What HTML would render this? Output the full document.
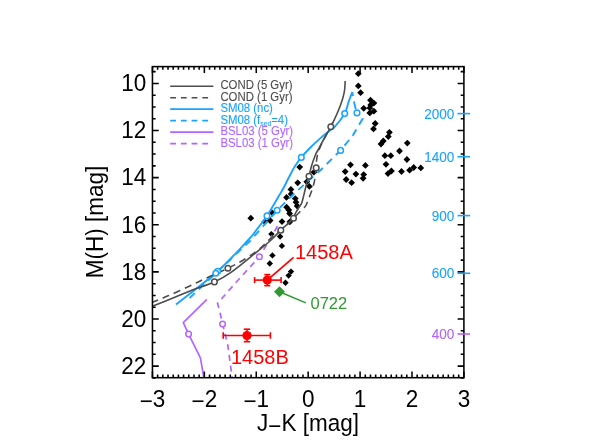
<!DOCTYPE html><html><head><meta charset="utf-8"><style>html,body{margin:0;padding:0;background:#fff}text{font-family:"Liberation Sans",sans-serif}body{width:616px;height:445px;position:relative;overflow:hidden;font-family:"Liberation Sans",sans-serif}</style></head><body><svg width="616" height="445" viewBox="0 0 616 445" style="position:absolute;left:0;top:0;will-change:transform">
<rect x="0" y="0" width="616" height="445" fill="#fff"/>
<defs><clipPath id="cp"><rect x="152.45" y="66.60" width="311.45" height="311.10"/></clipPath></defs>
<path d="M354.90,73.70 L358.30,70.30 L361.70,73.70 L358.30,77.10Z" fill="#000"/>
<path d="M354.90,85.90 L358.30,82.50 L361.70,85.90 L358.30,89.30Z" fill="#000"/>
<path d="M357.20,92.70 L360.60,89.30 L364.00,92.70 L360.60,96.10Z" fill="#000"/>
<path d="M367.10,100.20 L370.50,96.80 L373.90,100.20 L370.50,103.60Z" fill="#000"/>
<path d="M370.50,103.10 L373.90,99.70 L377.30,103.10 L373.90,106.50Z" fill="#000"/>
<path d="M360.30,108.30 L363.70,104.90 L367.10,108.30 L363.70,111.70Z" fill="#000"/>
<path d="M366.40,107.90 L369.80,104.50 L373.20,107.90 L369.80,111.30Z" fill="#000"/>
<path d="M367.30,105.00 L370.70,101.60 L374.10,105.00 L370.70,108.40Z" fill="#000"/>
<path d="M370.50,111.20 L373.90,107.80 L377.30,111.20 L373.90,114.60Z" fill="#000"/>
<path d="M366.40,112.90 L369.80,109.50 L373.20,112.90 L369.80,116.30Z" fill="#000"/>
<path d="M371.80,123.50 L375.20,120.10 L378.60,123.50 L375.20,126.90Z" fill="#000"/>
<path d="M370.10,128.90 L373.50,125.50 L376.90,128.90 L373.50,132.30Z" fill="#000"/>
<path d="M386.00,132.30 L389.40,128.90 L392.80,132.30 L389.40,135.70Z" fill="#000"/>
<path d="M384.90,136.60 L388.30,133.20 L391.70,136.60 L388.30,140.00Z" fill="#000"/>
<path d="M379.90,141.00 L383.30,137.60 L386.70,141.00 L383.30,144.40Z" fill="#000"/>
<path d="M377.60,144.00 L381.00,140.60 L384.40,144.00 L381.00,147.40Z" fill="#000"/>
<path d="M403.90,143.10 L407.30,139.70 L410.70,143.10 L407.30,146.50Z" fill="#000"/>
<path d="M396.10,151.00 L399.50,147.60 L402.90,151.00 L399.50,154.40Z" fill="#000"/>
<path d="M381.50,155.70 L384.90,152.30 L388.30,155.70 L384.90,159.10Z" fill="#000"/>
<path d="M387.40,155.70 L390.80,152.30 L394.20,155.70 L390.80,159.10Z" fill="#000"/>
<path d="M403.50,159.50 L406.90,156.10 L410.30,159.50 L406.90,162.90Z" fill="#000"/>
<path d="M382.60,164.30 L386.00,160.90 L389.40,164.30 L386.00,167.70Z" fill="#000"/>
<path d="M388.00,171.00 L391.40,167.60 L394.80,171.00 L391.40,174.40Z" fill="#000"/>
<path d="M384.60,173.60 L388.00,170.20 L391.40,173.60 L388.00,177.00Z" fill="#000"/>
<path d="M398.10,171.50 L401.50,168.10 L404.90,171.50 L401.50,174.90Z" fill="#000"/>
<path d="M406.20,170.20 L409.60,166.80 L413.00,170.20 L409.60,173.60Z" fill="#000"/>
<path d="M410.30,167.50 L413.70,164.10 L417.10,167.50 L413.70,170.90Z" fill="#000"/>
<path d="M417.40,167.90 L420.80,164.50 L424.20,167.90 L420.80,171.30Z" fill="#000"/>
<path d="M347.10,164.80 L350.50,161.40 L353.90,164.80 L350.50,168.20Z" fill="#000"/>
<path d="M362.00,165.40 L365.40,162.00 L368.80,165.40 L365.40,168.80Z" fill="#000"/>
<path d="M341.80,171.60 L345.20,168.20 L348.60,171.60 L345.20,175.00Z" fill="#000"/>
<path d="M352.50,174.10 L355.90,170.70 L359.30,174.10 L355.90,177.50Z" fill="#000"/>
<path d="M360.30,174.60 L363.70,171.20 L367.10,174.60 L363.70,178.00Z" fill="#000"/>
<path d="M359.70,178.30 L363.10,174.90 L366.50,178.30 L363.10,181.70Z" fill="#000"/>
<path d="M342.80,179.50 L346.20,176.10 L349.60,179.50 L346.20,182.90Z" fill="#000"/>
<path d="M348.20,182.70 L351.60,179.30 L355.00,182.70 L351.60,186.10Z" fill="#000"/>
<path d="M310.50,172.20 L313.90,168.80 L317.30,172.20 L313.90,175.60Z" fill="#000"/>
<path d="M296.30,167.10 L299.70,163.70 L303.10,167.10 L299.70,170.50Z" fill="#000"/>
<path d="M294.30,182.80 L297.70,179.40 L301.10,182.80 L297.70,186.20Z" fill="#000"/>
<path d="M303.40,181.80 L306.80,178.40 L310.20,181.80 L306.80,185.20Z" fill="#000"/>
<path d="M306.00,186.40 L309.40,183.00 L312.80,186.40 L309.40,189.80Z" fill="#000"/>
<path d="M287.50,189.40 L290.90,186.00 L294.30,189.40 L290.90,192.80Z" fill="#000"/>
<path d="M287.70,194.00 L291.10,190.60 L294.50,194.00 L291.10,197.40Z" fill="#000"/>
<path d="M283.10,197.40 L286.50,194.00 L289.90,197.40 L286.50,200.80Z" fill="#000"/>
<path d="M291.90,198.60 L295.30,195.20 L298.70,198.60 L295.30,202.00Z" fill="#000"/>
<path d="M292.60,202.20 L296.00,198.80 L299.40,202.20 L296.00,205.60Z" fill="#000"/>
<path d="M293.80,206.00 L297.20,202.60 L300.60,206.00 L297.20,209.40Z" fill="#000"/>
<path d="M283.20,207.20 L286.60,203.80 L290.00,207.20 L286.60,210.60Z" fill="#000"/>
<path d="M285.40,210.00 L288.80,206.60 L292.20,210.00 L288.80,213.40Z" fill="#000"/>
<path d="M286.20,213.50 L289.60,210.10 L293.00,213.50 L289.60,216.90Z" fill="#000"/>
<path d="M268.80,212.80 L272.20,209.40 L275.60,212.80 L272.20,216.20Z" fill="#000"/>
<path d="M266.70,220.50 L270.10,217.10 L273.50,220.50 L270.10,223.90Z" fill="#000"/>
<path d="M261.40,221.70 L264.80,218.30 L268.20,221.70 L264.80,225.10Z" fill="#000"/>
<path d="M278.60,221.60 L282.00,218.20 L285.40,221.60 L282.00,225.00Z" fill="#000"/>
<path d="M286.50,221.80 L289.90,218.40 L293.30,221.80 L289.90,225.20Z" fill="#000"/>
<path d="M247.40,218.20 L250.80,214.80 L254.20,218.20 L250.80,221.60Z" fill="#000"/>
<path d="M268.20,234.10 L271.40,230.90 L274.60,234.10 L271.40,237.30Z" fill="#000"/>
<path d="M276.90,236.50 L280.10,233.30 L283.30,236.50 L280.10,239.70Z" fill="#000"/>
<path d="M278.70,245.90 L281.90,242.70 L285.10,245.90 L281.90,249.10Z" fill="#000"/>
<path d="M269.20,255.40 L272.40,252.20 L275.60,255.40 L272.40,258.60Z" fill="#000"/>
<path d="M266.60,263.50 L269.80,260.30 L273.00,263.50 L269.80,266.70Z" fill="#000"/>
<path d="M287.80,271.60 L291.00,268.40 L294.20,271.60 L291.00,274.80Z" fill="#000"/>
<path d="M285.40,275.60 L288.60,272.40 L291.80,275.60 L288.60,278.80Z" fill="#000"/>
<path d="M282.30,282.70 L285.50,279.50 L288.70,282.70 L285.50,285.90Z" fill="#000"/>
<g clip-path="url(#cp)">
<path d="M206.90,299.40 L183.30,322.60 L188.60,334.10 L200.40,357.80 L204.00,378.50" fill="none" stroke="#b366ff" stroke-width="1.70" stroke-linejoin="round"/>
<path d="M278.80,223.40 L272.60,235.00 L259.40,256.80 L238.20,280.00 L217.50,303.40 L219.30,309.50 L222.60,324.00 L227.70,344.70 L232.30,378.50" fill="none" stroke="#b366ff" stroke-width="1.70" stroke-linejoin="round" stroke-dasharray="6,4.8" stroke-dashoffset="7.8"/>
<path d="M352.30,92.10 C351.68,93.73 349.87,98.32 348.60,101.90 C347.33,105.48 346.95,109.53 344.70,113.60 C342.45,117.67 337.57,123.48 335.10,126.30 C332.63,129.12 332.33,128.53 329.90,130.50 C327.47,132.47 323.75,135.27 320.50,138.10 C317.25,140.93 313.60,144.28 310.40,147.50 C307.20,150.72 303.90,154.25 301.30,157.40 C298.70,160.55 296.95,162.92 294.80,166.40 C292.65,169.88 290.12,175.00 288.40,178.30 C286.68,181.60 286.05,183.32 284.50,186.20 C282.95,189.08 281.00,192.33 279.10,195.60 C277.20,198.87 275.12,202.42 273.10,205.80 C271.08,209.18 268.92,212.98 267.00,215.90 C265.08,218.82 263.28,221.05 261.60,223.30 C259.92,225.55 259.13,226.62 256.90,229.40 C254.67,232.18 254.75,233.02 248.20,240.00 C241.65,246.98 229.63,260.53 217.60,271.30 C205.57,282.07 182.93,299.05 176.00,304.60" fill="none" stroke="#1aa3ff" stroke-width="1.90" stroke-linejoin="round"/>
<path d="M352.30,92.10 L354.50,104.00 L356.70,112.80" fill="none" stroke="#1aa3ff" stroke-width="1.90" stroke-linejoin="round" stroke-dasharray="4,5.5,8,30" stroke-dashoffset="0.0"/>
<path d="M356.70,112.80 L362.80,118.50 L352.80,135.60 L340.50,150.40 L320.50,170.20 L303.30,185.40 L293.20,194.50 L277.20,210.40 L250.00,241.00 L215.80,273.20 L186.40,301.10" fill="none" stroke="#1aa3ff" stroke-width="1.90" stroke-linejoin="round" stroke-dasharray="7.3,5.5" stroke-dashoffset="4.5"/>
<path d="M345.20,81.00 C345.10,82.50 345.02,87.08 344.60,90.00 C344.18,92.92 343.72,95.12 342.70,98.50 C341.68,101.88 340.47,105.58 338.50,110.30 C336.53,115.02 333.15,122.35 330.90,126.80 C328.65,131.25 327.15,133.13 325.00,137.00 C322.85,140.87 319.60,147.00 318.00,150.00 C316.40,153.00 316.48,152.33 315.40,155.00 C314.32,157.67 312.57,162.45 311.50,166.00 C310.43,169.55 309.65,173.97 309.00,176.30 C308.35,178.63 308.22,177.88 307.60,180.00 C306.98,182.12 306.05,186.00 305.30,189.00 C304.55,192.00 303.70,195.67 303.10,198.00 C302.50,200.33 302.35,201.50 301.70,203.00 C301.05,204.50 300.18,205.40 299.20,207.00 C298.22,208.60 296.83,210.73 295.80,212.60 C294.77,214.47 294.47,216.22 293.00,218.20 C291.53,220.18 288.97,222.57 287.00,224.50 C285.03,226.43 284.03,227.05 281.20,229.80 C278.37,232.55 274.32,237.10 270.00,241.00 C265.68,244.90 261.80,247.97 255.30,253.20 C248.80,258.43 237.82,267.62 231.00,272.40 C224.18,277.18 220.75,279.02 214.40,281.90 C208.05,284.78 199.30,287.22 192.90,289.70 C186.50,292.18 183.15,293.88 176.00,296.80 C168.85,299.72 154.33,305.47 150.00,307.20" fill="none" stroke="#4d4d4d" stroke-width="1.60" stroke-linejoin="round"/>
<path d="M333.00,122.00 C332.50,123.00 331.83,124.50 330.00,128.00 C328.17,131.50 323.95,139.00 322.00,143.00 C320.05,147.00 319.20,149.17 318.30,152.00 C317.40,154.83 316.95,157.35 316.60,160.00 C316.25,162.65 316.57,164.35 316.20,167.90 C315.83,171.45 315.18,177.42 314.40,181.30 C313.62,185.18 312.60,187.92 311.50,191.20 C310.40,194.48 308.83,198.47 307.80,201.00 C306.77,203.53 306.37,204.85 305.30,206.40 C304.23,207.95 302.62,209.08 301.40,210.30 C300.18,211.52 299.32,212.37 298.00,213.70 C296.68,215.03 295.08,216.70 293.50,218.30 C291.92,219.90 290.25,221.68 288.50,223.30 C286.75,224.92 286.08,225.38 283.00,228.00 C279.92,230.62 273.95,235.48 270.00,239.00 C266.05,242.52 263.47,245.77 259.30,249.10 C255.13,252.43 250.23,255.80 245.00,259.00 C239.77,262.20 234.53,265.03 227.90,268.30 C221.27,271.57 211.47,275.68 205.20,278.60 C198.93,281.52 196.47,282.93 190.30,285.80 C184.13,288.67 174.92,292.88 168.20,295.80 C161.48,298.72 153.03,302.05 150.00,303.30" fill="none" stroke="#4d4d4d" stroke-width="1.60" stroke-linejoin="round" stroke-dasharray="7.1,5" stroke-dashoffset="0.0"/>
</g>
<circle cx="259.40" cy="256.80" r="2.80" fill="#fff" stroke="#b366ff" stroke-width="1.50"/>
<circle cx="222.60" cy="324.00" r="2.80" fill="#fff" stroke="#b366ff" stroke-width="1.50"/>
<circle cx="188.60" cy="334.10" r="2.80" fill="#fff" stroke="#b366ff" stroke-width="1.50"/>
<circle cx="344.70" cy="113.60" r="2.80" fill="#fff" stroke="#1aa3ff" stroke-width="1.50"/>
<circle cx="301.30" cy="157.40" r="2.80" fill="#fff" stroke="#1aa3ff" stroke-width="1.50"/>
<circle cx="267.00" cy="215.90" r="2.80" fill="#fff" stroke="#1aa3ff" stroke-width="1.50"/>
<circle cx="217.60" cy="271.30" r="2.80" fill="#fff" stroke="#1aa3ff" stroke-width="1.50"/>
<circle cx="357.00" cy="112.90" r="2.80" fill="#fff" stroke="#1aa3ff" stroke-width="1.50"/>
<circle cx="340.60" cy="150.40" r="2.80" fill="#fff" stroke="#1aa3ff" stroke-width="1.50"/>
<circle cx="277.20" cy="210.30" r="2.80" fill="#fff" stroke="#1aa3ff" stroke-width="1.50"/>
<circle cx="215.80" cy="273.20" r="2.80" fill="#fff" stroke="#1aa3ff" stroke-width="1.50"/>
<circle cx="330.80" cy="126.70" r="2.80" fill="#fff" stroke="#4d4d4d" stroke-width="1.50"/>
<circle cx="309.00" cy="176.30" r="2.80" fill="#fff" stroke="#4d4d4d" stroke-width="1.50"/>
<circle cx="280.80" cy="230.20" r="2.80" fill="#fff" stroke="#4d4d4d" stroke-width="1.50"/>
<circle cx="214.40" cy="281.90" r="2.80" fill="#fff" stroke="#4d4d4d" stroke-width="1.50"/>
<circle cx="316.20" cy="167.90" r="2.80" fill="#fff" stroke="#4d4d4d" stroke-width="1.50"/>
<circle cx="293.50" cy="218.30" r="2.80" fill="#fff" stroke="#4d4d4d" stroke-width="1.50"/>
<circle cx="227.90" cy="268.30" r="2.80" fill="#fff" stroke="#4d4d4d" stroke-width="1.50"/>
<line x1="279.5" y1="291.8" x2="305.8" y2="302.9" stroke="#309a30" stroke-width="1.5"/>
<path d="M274.00,291.70 L279.50,286.20 L285.00,291.70 L279.50,297.20Z" fill="#309a30"/>
<line x1="267.3" y1="280.1" x2="293.6" y2="257.4" stroke="#ff0000" stroke-width="1.8"/>
<g stroke="#ff0000" stroke-width="1.6" fill="none">
<line x1="254.60" y1="280.10" x2="281.10" y2="280.10"/>
<line x1="267.30" y1="274.60" x2="267.30" y2="285.70"/>
<line x1="254.60" y1="277.10" x2="254.60" y2="283.10"/>
<line x1="281.10" y1="277.10" x2="281.10" y2="283.10"/>
<line x1="264.30" y1="274.60" x2="270.30" y2="274.60"/>
<line x1="264.30" y1="285.70" x2="270.30" y2="285.70"/>
</g>
<circle cx="267.30" cy="280.10" r="4.6" fill="#ff0000"/>
<g stroke="#ff0000" stroke-width="1.6" fill="none">
<line x1="223.20" y1="335.50" x2="270.40" y2="335.50"/>
<line x1="247.00" y1="329.20" x2="247.00" y2="341.70"/>
<line x1="223.20" y1="332.30" x2="223.20" y2="338.70"/>
<line x1="270.40" y1="332.30" x2="270.40" y2="338.70"/>
<line x1="243.80" y1="329.20" x2="250.20" y2="329.20"/>
<line x1="243.80" y1="341.70" x2="250.20" y2="341.70"/>
</g>
<circle cx="247.00" cy="335.50" r="4.6" fill="#ff0000"/>
<g stroke="#000" stroke-width="1.55" fill="none">
<rect x="152.45" y="66.60" width="311.45" height="311.10"/>
<path d="M152.45,377.70v-6.30 M152.45,66.60v6.30 M157.64,377.70v-3.20 M157.64,66.60v3.20 M162.83,377.70v-3.20 M162.83,66.60v3.20 M168.02,377.70v-3.20 M168.02,66.60v3.20 M173.21,377.70v-3.20 M173.21,66.60v3.20 M178.40,377.70v-3.20 M178.40,66.60v3.20 M183.59,377.70v-3.20 M183.59,66.60v3.20 M188.79,377.70v-3.20 M188.79,66.60v3.20 M193.98,377.70v-3.20 M193.98,66.60v3.20 M199.17,377.70v-3.20 M199.17,66.60v3.20 M204.36,377.70v-6.30 M204.36,66.60v6.30 M209.55,377.70v-3.20 M209.55,66.60v3.20 M214.74,377.70v-3.20 M214.74,66.60v3.20 M219.93,377.70v-3.20 M219.93,66.60v3.20 M225.12,377.70v-3.20 M225.12,66.60v3.20 M230.31,377.70v-3.20 M230.31,66.60v3.20 M235.50,377.70v-3.20 M235.50,66.60v3.20 M240.69,377.70v-3.20 M240.69,66.60v3.20 M245.88,377.70v-3.20 M245.88,66.60v3.20 M251.08,377.70v-3.20 M251.08,66.60v3.20 M256.27,377.70v-6.30 M256.27,66.60v6.30 M261.46,377.70v-3.20 M261.46,66.60v3.20 M266.65,377.70v-3.20 M266.65,66.60v3.20 M271.84,377.70v-3.20 M271.84,66.60v3.20 M277.03,377.70v-3.20 M277.03,66.60v3.20 M282.22,377.70v-3.20 M282.22,66.60v3.20 M287.41,377.70v-3.20 M287.41,66.60v3.20 M292.60,377.70v-3.20 M292.60,66.60v3.20 M297.79,377.70v-3.20 M297.79,66.60v3.20 M302.98,377.70v-3.20 M302.98,66.60v3.20 M308.17,377.70v-6.30 M308.17,66.60v6.30 M313.37,377.70v-3.20 M313.37,66.60v3.20 M318.56,377.70v-3.20 M318.56,66.60v3.20 M323.75,377.70v-3.20 M323.75,66.60v3.20 M328.94,377.70v-3.20 M328.94,66.60v3.20 M334.13,377.70v-3.20 M334.13,66.60v3.20 M339.32,377.70v-3.20 M339.32,66.60v3.20 M344.51,377.70v-3.20 M344.51,66.60v3.20 M349.70,377.70v-3.20 M349.70,66.60v3.20 M354.89,377.70v-3.20 M354.89,66.60v3.20 M360.08,377.70v-6.30 M360.08,66.60v6.30 M365.27,377.70v-3.20 M365.27,66.60v3.20 M370.46,377.70v-3.20 M370.46,66.60v3.20 M375.66,377.70v-3.20 M375.66,66.60v3.20 M380.85,377.70v-3.20 M380.85,66.60v3.20 M386.04,377.70v-3.20 M386.04,66.60v3.20 M391.23,377.70v-3.20 M391.23,66.60v3.20 M396.42,377.70v-3.20 M396.42,66.60v3.20 M401.61,377.70v-3.20 M401.61,66.60v3.20 M406.80,377.70v-3.20 M406.80,66.60v3.20 M411.99,377.70v-6.30 M411.99,66.60v6.30 M417.18,377.70v-3.20 M417.18,66.60v3.20 M422.37,377.70v-3.20 M422.37,66.60v3.20 M427.56,377.70v-3.20 M427.56,66.60v3.20 M432.75,377.70v-3.20 M432.75,66.60v3.20 M437.95,377.70v-3.20 M437.95,66.60v3.20 M443.14,377.70v-3.20 M443.14,66.60v3.20 M448.33,377.70v-3.20 M448.33,66.60v3.20 M453.52,377.70v-3.20 M453.52,66.60v3.20 M458.71,377.70v-3.20 M458.71,66.60v3.20 M463.90,377.70v-6.30 M463.90,66.60v6.30 M152.45,71.62h3.20 M463.90,71.62h-3.20 M152.45,83.40h6.30 M463.90,83.40h-6.30 M152.45,95.18h3.20 M463.90,95.18h-3.20 M152.45,106.96h3.20 M463.90,106.96h-3.20 M152.45,118.74h3.20 M463.90,118.74h-3.20 M152.45,130.52h6.30 M463.90,130.52h-6.30 M152.45,142.30h3.20 M463.90,142.30h-3.20 M152.45,154.08h3.20 M463.90,154.08h-3.20 M152.45,165.86h3.20 M463.90,165.86h-3.20 M152.45,177.64h6.30 M463.90,177.64h-6.30 M152.45,189.42h3.20 M463.90,189.42h-3.20 M152.45,201.20h3.20 M463.90,201.20h-3.20 M152.45,212.98h3.20 M463.90,212.98h-3.20 M152.45,224.76h6.30 M463.90,224.76h-6.30 M152.45,236.54h3.20 M463.90,236.54h-3.20 M152.45,248.32h3.20 M463.90,248.32h-3.20 M152.45,260.10h3.20 M463.90,260.10h-3.20 M152.45,271.88h6.30 M463.90,271.88h-6.30 M152.45,283.66h3.20 M463.90,283.66h-3.20 M152.45,295.44h3.20 M463.90,295.44h-3.20 M152.45,307.22h3.20 M463.90,307.22h-3.20 M152.45,319.00h6.30 M463.90,319.00h-6.30 M152.45,330.78h3.20 M463.90,330.78h-3.20 M152.45,342.56h3.20 M463.90,342.56h-3.20 M152.45,354.34h3.20 M463.90,354.34h-3.20 M152.45,366.12h6.30 M463.90,366.12h-6.30 M152.45,377.90h3.20 M463.90,377.90h-3.20 "/>
</g>
<line x1="457.5" y1="113.60" x2="470.1" y2="113.60" stroke="#1aa3ff" stroke-width="1.6"/>
<line x1="457.5" y1="156.70" x2="470.1" y2="156.70" stroke="#1aa3ff" stroke-width="1.6"/>
<line x1="457.5" y1="215.60" x2="470.1" y2="215.60" stroke="#1aa3ff" stroke-width="1.6"/>
<line x1="457.5" y1="273.30" x2="470.1" y2="273.30" stroke="#1aa3ff" stroke-width="1.6"/>
<line x1="457.5" y1="334.00" x2="470.1" y2="334.00" stroke="#b366ff" stroke-width="1.6"/>
<text transform="translate(454.40,118.70) scale(0.955,1)" font-size="14.24" fill="#1aa3ff" stroke="#1aa3ff" stroke-width="0.10" text-anchor="end" >2000</text>
<text transform="translate(454.40,161.80) scale(0.955,1)" font-size="14.24" fill="#1aa3ff" stroke="#1aa3ff" stroke-width="0.10" text-anchor="end" >1400</text>
<text transform="translate(454.40,220.70) scale(0.955,1)" font-size="14.24" fill="#1aa3ff" stroke="#1aa3ff" stroke-width="0.10" text-anchor="end" >900</text>
<text transform="translate(454.40,278.40) scale(0.955,1)" font-size="14.24" fill="#1aa3ff" stroke="#1aa3ff" stroke-width="0.10" text-anchor="end" >600</text>
<text transform="translate(454.40,339.10) scale(0.955,1)" font-size="14.24" fill="#b366ff" stroke="#b366ff" stroke-width="0.10" text-anchor="end" >400</text>
<text transform="translate(146.30,91.20) scale(0.975,1)" font-size="23.08" fill="#000" stroke="#000" stroke-width="0.00" text-anchor="end" >10</text>
<text transform="translate(146.30,138.32) scale(0.975,1)" font-size="23.08" fill="#000" stroke="#000" stroke-width="0.00" text-anchor="end" >12</text>
<text transform="translate(146.30,185.44) scale(0.975,1)" font-size="23.08" fill="#000" stroke="#000" stroke-width="0.00" text-anchor="end" >14</text>
<text transform="translate(146.30,232.56) scale(0.975,1)" font-size="23.08" fill="#000" stroke="#000" stroke-width="0.00" text-anchor="end" >16</text>
<text transform="translate(146.30,279.68) scale(0.975,1)" font-size="23.08" fill="#000" stroke="#000" stroke-width="0.00" text-anchor="end" >18</text>
<text transform="translate(146.30,326.80) scale(0.975,1)" font-size="23.08" fill="#000" stroke="#000" stroke-width="0.00" text-anchor="end" >20</text>
<text transform="translate(146.30,373.92) scale(0.975,1)" font-size="23.08" fill="#000" stroke="#000" stroke-width="0.00" text-anchor="end" >22</text>
<text transform="translate(152.45,407.00) scale(0.975,1)" font-size="23.08" fill="#000" stroke="#000" stroke-width="0.00" text-anchor="middle" ><tspan dy="2.3">−</tspan><tspan dy="-2.3">3</tspan></text>
<text transform="translate(204.36,407.00) scale(0.975,1)" font-size="23.08" fill="#000" stroke="#000" stroke-width="0.00" text-anchor="middle" ><tspan dy="2.3">−</tspan><tspan dy="-2.3">2</tspan></text>
<text transform="translate(256.27,407.00) scale(0.975,1)" font-size="23.08" fill="#000" stroke="#000" stroke-width="0.00" text-anchor="middle" ><tspan dy="2.3">−</tspan><tspan dy="-2.3">1</tspan></text>
<text transform="translate(308.17,407.00) scale(0.975,1)" font-size="23.08" fill="#000" stroke="#000" stroke-width="0.00" text-anchor="middle" >0</text>
<text transform="translate(360.08,407.00) scale(0.975,1)" font-size="23.08" fill="#000" stroke="#000" stroke-width="0.00" text-anchor="middle" >1</text>
<text transform="translate(411.99,407.00) scale(0.975,1)" font-size="23.08" fill="#000" stroke="#000" stroke-width="0.00" text-anchor="middle" >2</text>
<text transform="translate(463.90,407.00) scale(0.975,1)" font-size="23.08" fill="#000" stroke="#000" stroke-width="0.00" text-anchor="middle" >3</text>
<text transform="translate(308.00,431.30) scale(0.955,1)" font-size="23.56" fill="#000" stroke="#000" stroke-width="0.00" text-anchor="middle" >J<tspan dy="2.3">−</tspan><tspan dy="-2.3">K [mag]</tspan></text>
<text transform="translate(103.3,222) rotate(-90) scale(0.955,1)" font-size="23.56" text-anchor="middle">M(H) [mag]</text>
<line x1="170.2" y1="86.30" x2="213.4" y2="86.30" stroke="#4d4d4d" stroke-width="1.5"/>
<text transform="translate(220.40,89.20) scale(0.955,1)" font-size="11.94" fill="#4d4d4d" stroke="#4d4d4d" stroke-width="0.10" text-anchor="start" >COND (5 Gyr)</text>
<line x1="170.2" y1="97.80" x2="212.0" y2="97.80" stroke="#4d4d4d" stroke-width="1.5" stroke-dasharray="5.8,4.9"/>
<text transform="translate(220.40,100.70) scale(0.955,1)" font-size="11.94" fill="#4d4d4d" stroke="#4d4d4d" stroke-width="0.10" text-anchor="start" >COND (1 Gyr)</text>
<line x1="170.2" y1="109.20" x2="213.4" y2="109.20" stroke="#1aa3ff" stroke-width="1.7"/>
<text transform="translate(220.40,112.10) scale(0.955,1)" font-size="11.94" fill="#1aa3ff" stroke="#1aa3ff" stroke-width="0.10" text-anchor="start" >SM08 (nc)</text>
<line x1="170.2" y1="120.70" x2="212.0" y2="120.70" stroke="#1aa3ff" stroke-width="1.7" stroke-dasharray="5.8,4.9"/>
<text transform="translate(220.40,123.60) scale(0.955,1)" font-size="11.94" fill="#1aa3ff" stroke="#1aa3ff" stroke-width="0.10" text-anchor="start" >SM08 (f<tspan font-size="7.1" dy="2.8">sed</tspan><tspan dy="-2.8">=4)</tspan></text>
<line x1="170.2" y1="132.10" x2="213.4" y2="132.10" stroke="#b366ff" stroke-width="1.7"/>
<text transform="translate(220.40,135.00) scale(0.955,1)" font-size="11.94" fill="#b366ff" stroke="#b366ff" stroke-width="0.10" text-anchor="start" >BSL03 (5 Gyr)</text>
<line x1="170.2" y1="143.60" x2="212.0" y2="143.60" stroke="#b366ff" stroke-width="1.7" stroke-dasharray="5.8,4.9"/>
<text transform="translate(220.40,146.50) scale(0.955,1)" font-size="11.94" fill="#b366ff" stroke="#b366ff" stroke-width="0.10" text-anchor="start" >BSL03 (1 Gyr)</text>
<text transform="translate(295.00,258.60) scale(0.955,1)" font-size="20.94" fill="#ff0000" stroke="#ff0000" stroke-width="0.00" text-anchor="start" >1458A</text>
<text transform="translate(231.00,363.50) scale(0.955,1)" font-size="20.94" fill="#ff0000" stroke="#ff0000" stroke-width="0.00" text-anchor="start" >1458B</text>
<text transform="translate(310.50,309.20) scale(0.955,1)" font-size="17.28" fill="#309a30" stroke="#309a30" stroke-width="0.00" text-anchor="start" >0722</text>
</svg></body></html>
